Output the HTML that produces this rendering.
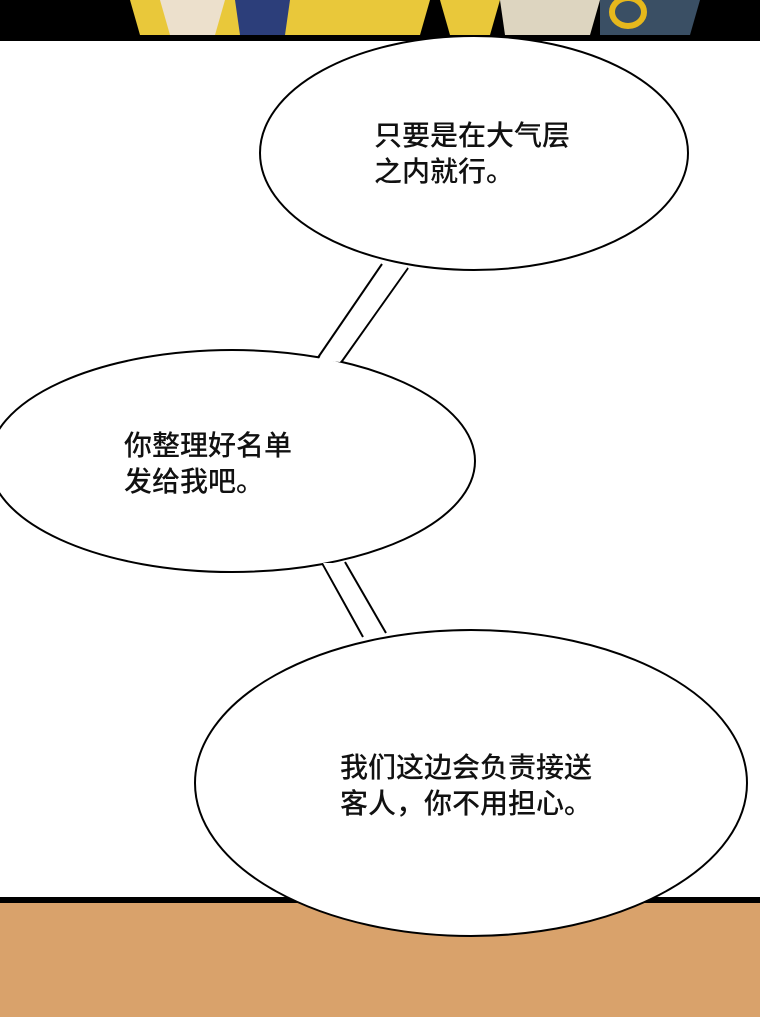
<!DOCTYPE html>
<html><head><meta charset="utf-8"><style>
html,body{margin:0;padding:0;background:#fff}
body{width:760px;height:1017px;position:relative;overflow:hidden;font-family:"Liberation Sans","Noto Sans CJK SC",sans-serif}
.t{position:absolute;font-size:28px;line-height:36px;color:#111;white-space:nowrap;font-weight:500}
</style></head><body>
<svg width="760" height="1017" style="position:absolute;left:0;top:0">
<rect x="0" y="0" width="760" height="41" fill="#000"/>
<polygon points="130,0 430,0 420,35 140,35" fill="#e9c83a"/>
<polygon points="440,0 500,0 490,35 450,35" fill="#e9c83a"/>
<polygon points="160,0 225,0 215,35 170,35" fill="#ece0cc"/>
<polygon points="235,0 290,0 285,35 240,35" fill="#2c3e7a"/>
<polygon points="500,0 600,0 590,35 505,35" fill="#ddd5c0"/>
<polygon points="600,0 700,0 690,35 600,35" fill="#3a4f64"/>
<ellipse cx="628" cy="12" rx="16" ry="14" fill="none" stroke="#e6b81c" stroke-width="6"/>
<rect x="0" y="897" width="760" height="120" fill="#d9a26b"/>
<rect x="0" y="897" width="760" height="6" fill="#000"/>
<polygon points="382,262 409,265 340,365 316,362" fill="#fff"/>
<line x1="382" y1="264" x2="317" y2="359" stroke="#000" stroke-width="2"/>
<line x1="408" y1="268" x2="340" y2="364" stroke="#000" stroke-width="2"/>
<polygon points="320,560 347,560 388,638 362,640" fill="#fff"/>
<line x1="322" y1="563" x2="363" y2="637" stroke="#000" stroke-width="2"/>
<line x1="345" y1="562" x2="386" y2="633" stroke="#000" stroke-width="2"/>
<ellipse cx="474" cy="153" rx="214" ry="117" fill="#fff" stroke="#000" stroke-width="2"/>
<ellipse cx="232" cy="461" rx="243" ry="111" fill="#fff" stroke="#000" stroke-width="2"/>
<ellipse cx="471" cy="783" rx="276" ry="153" fill="#fff" stroke="#000" stroke-width="2"/>
<polygon points="383,266 407,268 340,362 318,360" fill="#fff"/>
<polygon points="323,563 344,563 384,634 364,636" fill="#fff"/>
</svg>
<div class="t" style="left:374px;top:118px">只要是在大气层<br>之内就行。</div>
<div class="t" style="left:124px;top:428px">你整理好名单<br>发给我吧。</div>
<div class="t" style="left:340px;top:750px">我们这边会负责接送<br>客人，你不用担心。</div>
</body></html>
